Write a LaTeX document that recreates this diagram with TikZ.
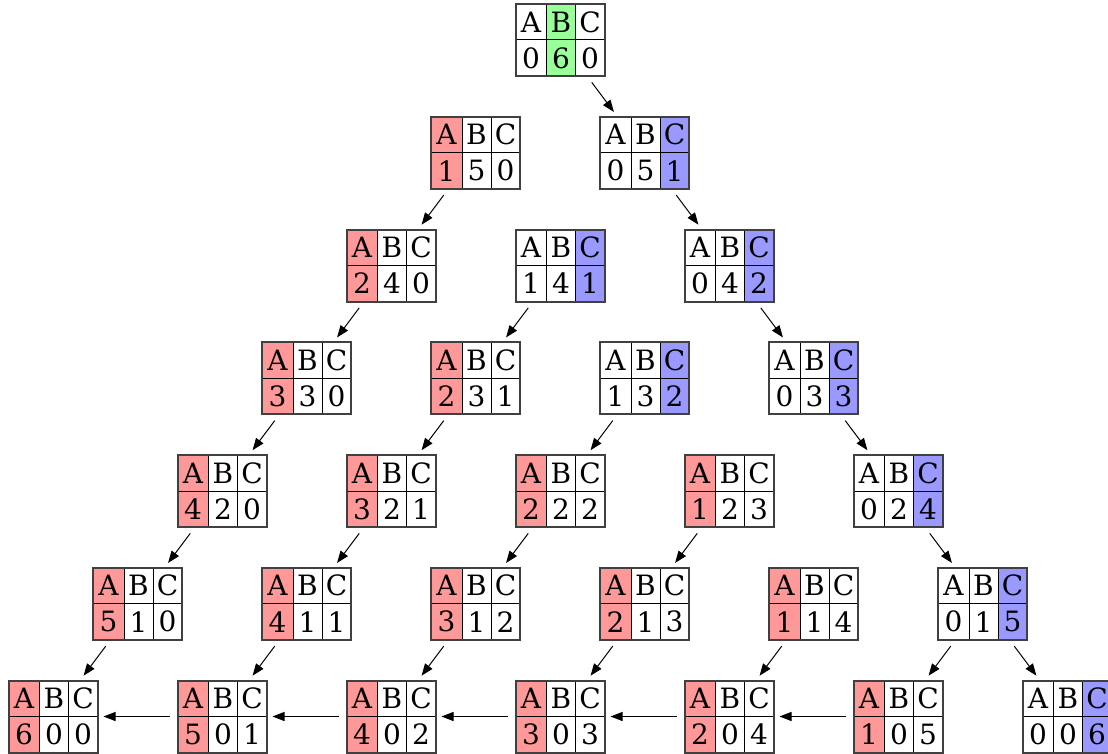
\documentclass[tikz,border=0pt]{standalone}
\usepackage{fontspec}
\setmainfont{DejaVu Serif}
\usetikzlibrary{arrows.meta}
\definecolor{hlA}{HTML}{FF9999}
\definecolor{hlB}{HTML}{99FF99}
\definecolor{hlC}{HTML}{9999FF}
\tikzset{
  tblbox/.style={rectangle, minimum width=89pt, minimum height=72pt, inner sep=0pt, outer sep=0pt},
  cell/.style={inner sep=0pt, font=\fontsize{28}{28}\selectfont},
  gridline/.style={line width=1pt, black},
  frame/.style={line width=2pt, black!75},
  arr/.style={-{Triangle[length=12pt,width=9pt]}, line width=1pt, shorten >=6pt, shorten <=8pt},
}
\begin{document}
\begin{tikzpicture}[x=1pt,y=1pt]
\useasboundingbox (0,0) rectangle (1108,-754);
\foreach \r in {0,...,6}{
  \foreach \i in {0,...,\r}{
    \pgfmathsetmacro\px{560+(\i-\r/2)*169}
    \pgfmathsetmacro\py{-(40+\r*112.75)}
    \pgfmathtruncatemacro\va{\r-\i}
    \pgfmathtruncatemacro\vb{6-\r}
    \pgfmathtruncatemacro\vc{\i}
    \pgfmathtruncatemacro\hl{\r==0 ? 2 : ((\i==\r || (\r==2 && \i==1) || (\r==3 && \i==2)) ? 3 : 1)}
    \node[tblbox] (n-\r-\i) at (\px,\py) {};
    \begin{scope}[shift={(n-\r-\i.center)}]
      \ifcase\hl\or
        \fill[hlA] (-44.5,-36) rectangle (-13.5,36);
      \or
        \fill[hlB] (-13.5,-36) rectangle (15.5,36);
      \or
        \fill[hlC] (15.5,-36) rectangle (44.5,36);
      \fi
      \draw[gridline] (-13.5,-36) -- (-13.5,36) (15.5,-36) -- (15.5,36) (-44.5,0) -- (44.5,0);
      \node[cell] (n-\r-\i-hA) at (-29,18) {A};
      \node[cell] (n-\r-\i-hB) at (1,18) {B};
      \node[cell] (n-\r-\i-hC) at (30,18) {C};
      \node[cell] (n-\r-\i-vA) at (-29,-18) {\va};
      \node[cell] (n-\r-\i-vB) at (1,-18) {\vb};
      \node[cell] (n-\r-\i-vC) at (30,-18) {\vc};
      \draw[frame] (-44.5,-36) rectangle (44.5,36);
    \end{scope}
  }
}
% down-left arrows
\foreach \r in {1,...,5}{
  \foreach \i in {0,...,\r}{
    \pgfmathtruncatemacro\rn{\r+1}
    \ifnum\i<\r
      \draw[arr] (n-\r-\i) -- (n-\rn-\i);
    \fi
  }
}
\draw[arr] (n-5-5) -- (n-6-5);
% down-right arrows
\foreach \r in {0,...,5}{
  \pgfmathtruncatemacro\rn{\r+1}
  \draw[arr] (n-\r-\r) -- (n-\rn-\rn);
}
% horizontal arrows
\foreach \i in {1,...,5}{
  \pgfmathtruncatemacro\ip{\i-1}
  \draw[arr] (n-6-\i) -- (n-6-\ip);
}
\end{tikzpicture}
\end{document}
